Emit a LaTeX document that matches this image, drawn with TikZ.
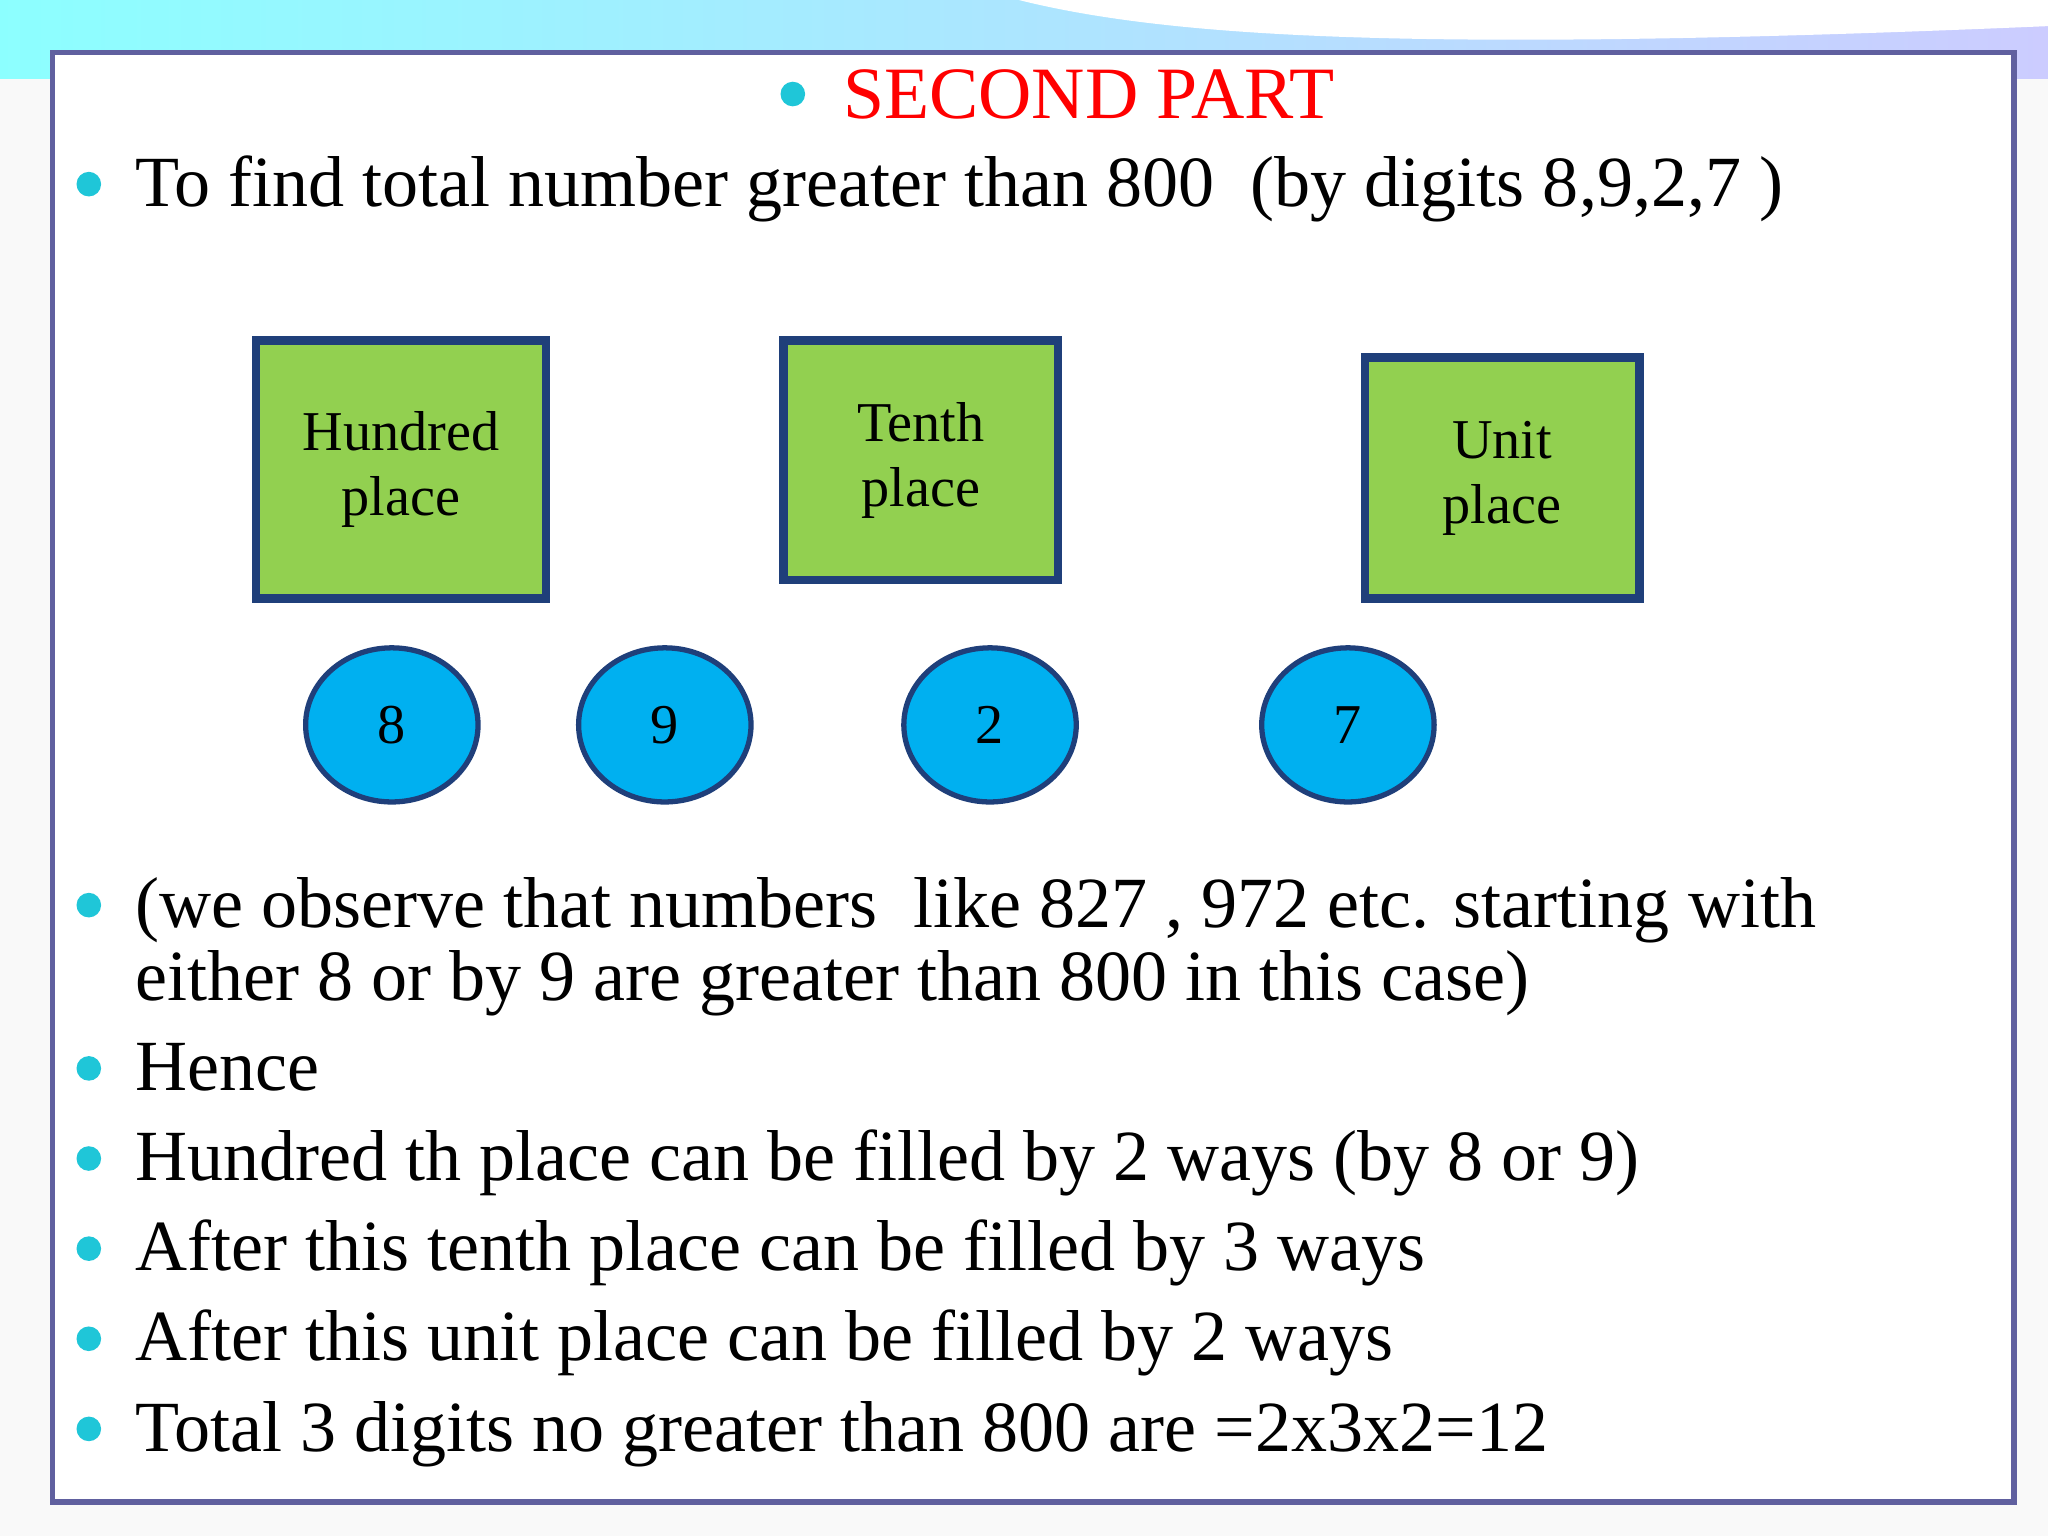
\documentclass[tikz,border=0pt]{standalone}
\usepackage{fontspec}
\setmainfont{Liberation Serif}
\usetikzlibrary{shapes.geometric}
\definecolor{bul}{HTML}{1FC6D8}
\definecolor{gbox}{HTML}{92D050}
\definecolor{dblue}{HTML}{1F3F7A}
\definecolor{cblue}{HTML}{00B0F0}
\tikzset{
 place/.style={draw=dblue,line width=2.5pt,fill=gbox,align=center,font=\fontsize{16}{18.5}\selectfont},
 digit/.style={draw=dblue,line width=1.5pt,fill=cblue,ellipse,minimum width=132*0.01306cm,minimum height=118*0.01306cm,inner sep=0pt,font=\fontsize{16}{18}\selectfont},
 txt/.style={anchor=base west,font=\fontsize{20.5}{24}\selectfont,inner sep=0pt},
 dot/.style={circle,fill=bul,minimum size=7pt,inner sep=0pt}
}
\begin{document}
\begin{tikzpicture}[x=0.01306cm,y=-0.01306cm]
\useasboundingbox (0,0) rectangle (1568,1176);
\fill[white!95!gray] (0,0) rectangle (1568,1176);
\shade[left color=cyan!45!white,right color=blue!20!white] (0,0) rectangle (1568,60);
\fill[white] (780,0) .. controls (900,30) and (1100,40) .. (1568,20) -- (1568,0) -- cycle;
\draw[line width=1.5pt,draw=blue!25!gray,fill=white] (40,40) rectangle (1542,1150);
\node[dot] (b0) at (607,72) {};
\node[anchor=west,text=red,font=\fontsize{21}{24}\selectfont] (t0) at (636,72) {SECOND PART};
\node[dot] (b1) at (68,141) {};
\node[txt] (t1) at (103,158) {To find total number greater than 800\ \ (by digits 8,9,2,7 )};
\node[place,minimum width=222*0.01306cm,minimum height=197*0.01306cm] (h) at (307,359.5) {Hundred\\place};
\node[place,minimum width=210*0.01306cm,minimum height=183*0.01306cm] (t) at (705,352.5) {Tenth\\place};
\node[place,minimum width=210*0.01306cm,minimum height=184*0.01306cm] (u) at (1150,366) {Unit\\place};
\node[digit] (c8) at (300,555) {8};
\node[digit] (c9) at (509,555) {9};
\node[digit] (c2) at (758,555) {2};
\node[digit] (c7) at (1032,555) {7};
\node[dot] (b2) at (68,693) {};
\node[txt] (t2) at (103,710) {(we observe that numbers\ \ like 827 , 972 etc. starting with};
\node[txt] (t2b) at (103,766) {either 8 or by 9 are greater than 800 in this case)};
\node[dot] (b3) at (68,818) {};
\node[txt] (t3) at (103,835) {Hence};
\node[dot] (b4) at (68,887) {};
\node[txt] (t4) at (103,904) {Hundred th place can be filled by 2 ways (by 8 or 9)};
\node[dot] (b5) at (68,956) {};
\node[txt] (t5) at (103,973) {After this tenth place can be filled by 3 ways};
\node[dot] (b6) at (68,1025) {};
\node[txt] (t6) at (103,1042) {After this unit place can be filled by 2 ways};
\node[dot] (b7) at (68,1094) {};
\node[txt] (t7) at (103,1111) {Total 3 digits no greater than 800 are =2x3x2=12};
\end{tikzpicture}
\end{document}
